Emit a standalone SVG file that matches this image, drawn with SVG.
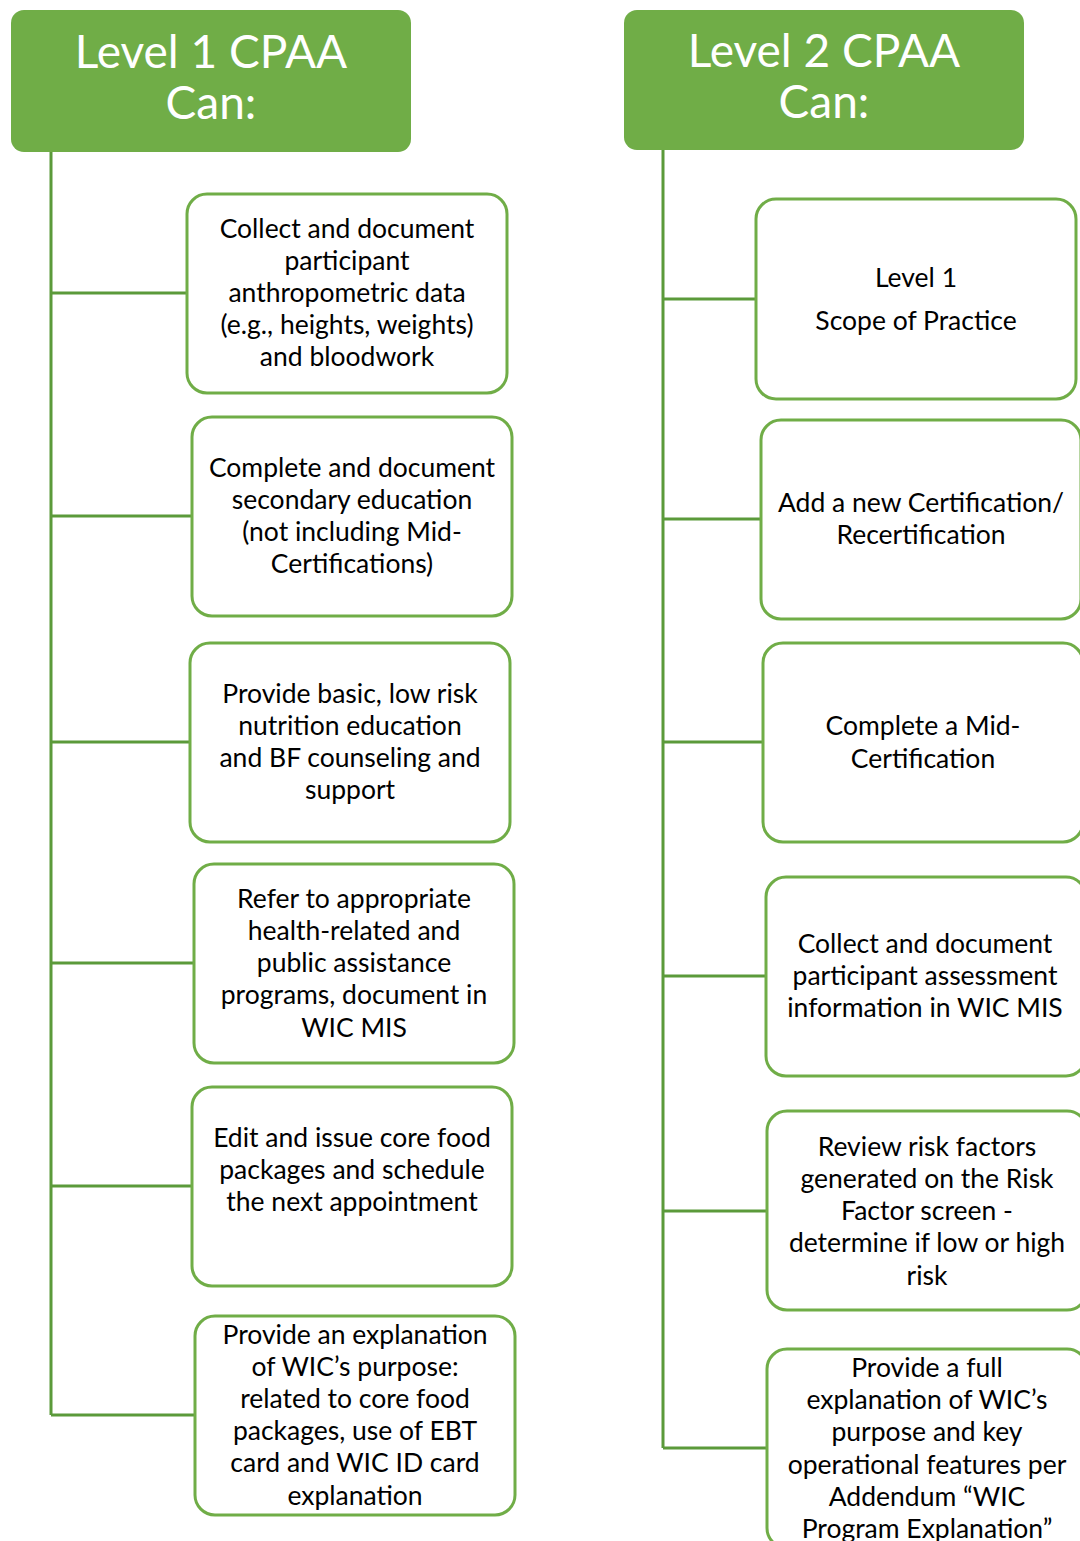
<svg xmlns="http://www.w3.org/2000/svg" width="1080" height="1541" viewBox="0 0 1080 1541">
<style>
.hdr{fill:#70AD47}
.hdrt{fill:#fff;font-family:Lato,"Open Sans",sans-serif;font-size:46px;text-anchor:middle}
.box{fill:#fff;stroke:#70AD47;stroke-width:3}
.t{fill:#000;font-family:Lato,"Open Sans",sans-serif;font-size:26.5px;text-anchor:middle}
.c{stroke:#5B9A3A;stroke-width:3;fill:none}
</style>
<rect width="1080" height="1541" fill="#fff"/>
<g id="connectors">
<path class="c" d="M51 152V1415M51 293H187M51 516H192M51 742H190M51 963H194M51 1186H192M51 1415H195"/>
<path class="c" d="M663 150V1448M663 299H756M663 519H761M663 742H763M663 976H766M663 1211H767M663 1448H767"/>
</g>
<g id="h1"><rect class="hdr" x="11" y="10" width="400" height="142" rx="13"/>
<text class="hdrt" x="211" y="68">Level 1 CPAA</text><text class="hdrt" x="211" y="119">Can:</text></g>
<g id="h2"><rect class="hdr" x="624" y="10" width="400" height="140" rx="13"/>
<text class="hdrt" x="824" y="67">Level 2 CPAA</text><text class="hdrt" x="824" y="118">Can:</text></g>
<g id="l1"><rect class="box" x="187" y="194" width="320" height="199" rx="20"/>
<text class="t"><tspan x="347" y="238">Collect and document</tspan><tspan x="347" y="270">participant</tspan><tspan x="347" y="302">anthropometric data</tspan><tspan x="347" y="334">(e.g., heights, weights)</tspan><tspan x="347" y="366">and bloodwork</tspan></text></g>
<g id="l2"><rect class="box" x="192" y="417" width="320" height="199" rx="20"/>
<text class="t"><tspan x="352" y="477">Complete and document</tspan><tspan x="352" y="509">secondary education</tspan><tspan x="352" y="541">(not including Mid-</tspan><tspan x="352" y="573">Certifications)</tspan></text></g>
<g id="l3"><rect class="box" x="190" y="643" width="320" height="199" rx="20"/>
<text class="t"><tspan x="350" y="703">Provide basic, low risk</tspan><tspan x="350" y="735">nutrition education</tspan><tspan x="350" y="767">and BF counseling and</tspan><tspan x="350" y="799">support</tspan></text></g>
<g id="l4"><rect class="box" x="194" y="864" width="320" height="199" rx="20"/>
<text class="t"><tspan x="354" y="908">Refer to appropriate</tspan><tspan x="354" y="940">health-related and</tspan><tspan x="354" y="972">public assistance</tspan><tspan x="354" y="1004">programs, document in</tspan><tspan x="354" y="1037">WIC MIS</tspan></text></g>
<g id="l5"><rect class="box" x="192" y="1087" width="320" height="199" rx="20"/>
<text class="t"><tspan x="352" y="1147">Edit and issue core food</tspan><tspan x="352" y="1179">packages and schedule</tspan><tspan x="352" y="1211">the next appointment</tspan></text></g>
<g id="l6"><rect class="box" x="195" y="1316" width="320" height="199" rx="20"/>
<text class="t"><tspan x="355" y="1344">Provide an explanation</tspan><tspan x="355" y="1376">of WIC’s purpose:</tspan><tspan x="355" y="1408">related to core food</tspan><tspan x="355" y="1440">packages, use of EBT</tspan><tspan x="355" y="1472">card and WIC ID card</tspan><tspan x="355" y="1505">explanation</tspan></text></g>
<g id="r1"><rect class="box" x="756" y="199" width="320" height="200" rx="20"/>
<text class="t"><tspan x="916" y="287">Level 1</tspan><tspan x="916" y="330">Scope of Practice</tspan></text></g>
<g id="r2"><rect class="box" x="761" y="420" width="320" height="199" rx="20"/>
<text class="t"><tspan x="921" y="512">Add a new Certification/</tspan><tspan x="921" y="544">Recertification</tspan></text></g>
<g id="r3"><rect class="box" x="763" y="643" width="320" height="199" rx="20"/>
<text class="t"><tspan x="923" y="735">Complete a Mid-</tspan><tspan x="923" y="768">Certification</tspan></text></g>
<g id="r4"><rect class="box" x="766" y="877" width="320" height="199" rx="20"/>
<text class="t"><tspan x="925" y="953">Collect and document</tspan><tspan x="925" y="985">participant assessment</tspan><tspan x="925" y="1017">information in WIC MIS</tspan></text></g>
<g id="r5"><rect class="box" x="767" y="1111" width="320" height="199" rx="20"/>
<text class="t"><tspan x="927" y="1156">Review risk factors</tspan><tspan x="927" y="1188">generated on the Risk</tspan><tspan x="927" y="1220">Factor screen -</tspan><tspan x="927" y="1252">determine if low or high</tspan><tspan x="927" y="1285">risk</tspan></text></g>
<g id="r6"><rect class="box" x="767" y="1349" width="320" height="199" rx="20"/>
<text class="t"><tspan x="927" y="1377">Provide a full</tspan><tspan x="927" y="1409">explanation of WIC’s</tspan><tspan x="927" y="1441">purpose and key</tspan><tspan x="927" y="1474">operational features per</tspan><tspan x="927" y="1506">Addendum “WIC</tspan><tspan x="927" y="1538">Program Explanation”</tspan></text></g>
</svg>
